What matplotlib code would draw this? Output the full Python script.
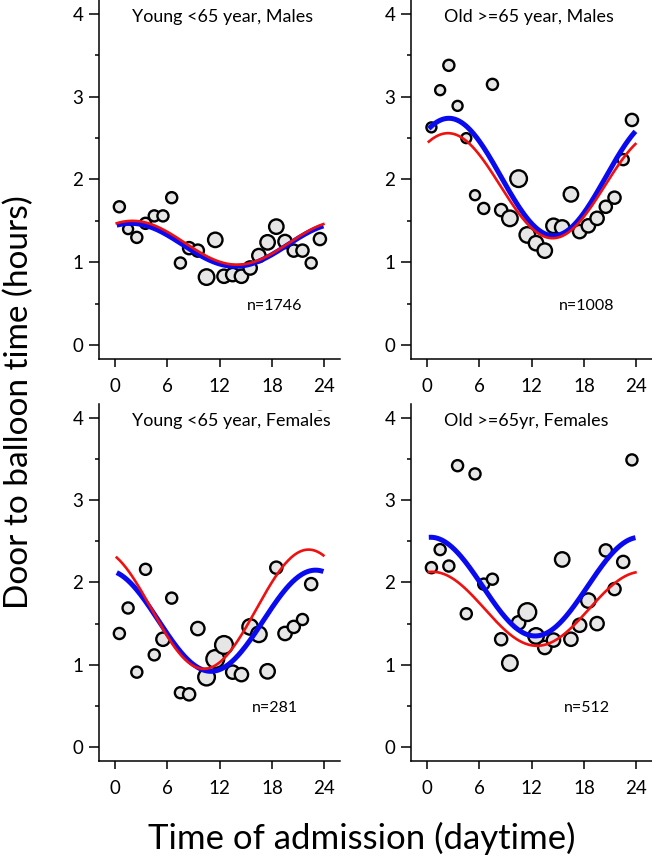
#!/usr/bin/env python3
"""Door-to-balloon time by hour of admission, 4 age/sex panels with cosinor fits."""
import numpy as np
import matplotlib
matplotlib.use("Agg")
import matplotlib.pyplot as plt

plt.rcParams["font.family"] = ["Lato", "DejaVu Sans"]

# hour of admission (bin centres)
hours = [0.5, 1.5, 2.5, 3.5, 4.5, 5.5, 6.5, 7.5, 8.5, 9.5, 10.5, 11.5,
         12.5, 13.5, 14.5, 15.5, 16.5, 17.5, 18.5, 19.5, 20.5, 21.5, 22.5, 23.5]

# --- Young <65, males ---
ym_dtb = [1.67, 1.40, 1.30, 1.47, 1.56, 1.56, 1.78, 0.99, 1.17, 1.14, 0.82, 1.27,
          0.83, 0.85, 0.83, 0.93, 1.08, 1.24, 1.43, 1.25, 1.14, 1.14, 0.99, 1.28]
ym_diam = [10, 9, 10, 10, 10, 10, 10, 10, 11, 11, 14, 13,
           12, 12, 12, 12, 12, 13, 13, 12, 11, 11, 10, 11]
# --- Old >=65, males ---
om_dtb = [2.63, 3.08, 3.38, 2.89, 2.50, 1.81, 1.65, 3.15, 1.63, 1.53, 2.01, 1.33,
          1.23, 1.14, 1.44, 1.42, 1.82, 1.37, 1.44, 1.53, 1.67, 1.78, 2.24, 2.72]
om_diam = [9, 9, 10, 9, 9, 9, 10, 10, 11, 14, 15, 14,
           13, 13, 13, 13, 13, 12, 12, 12, 11, 11, 10, 11]
# --- Young <65, females ---
yf_dtb = [1.38, 1.69, 0.91, 2.16, 1.12, 1.31, 1.81, 0.66, 0.64, 1.44, 0.85, 1.07,
          1.24, 0.91, 0.88, 1.46, 1.37, 0.92, 2.18, 1.38, 1.46, 1.55, 1.98, 4.01]
yf_diam = [10, 10, 10, 10, 10, 12, 10, 10, 11, 12, 15, 16,
           16, 12, 12, 14, 14, 13, 11, 12, 11, 10, 11, 10]
# --- Old >=65, females ---
of_dtb = [2.18, 2.40, 2.20, 3.42, 1.62, 3.32, 1.98, 2.04, 1.31, 1.02, 1.51, 1.64,
          1.35, 1.21, 1.30, 2.28, 1.31, 1.48, 1.78, 1.50, 2.39, 1.92, 2.25, 3.49]
of_diam = [10, 10, 10, 10, 10, 10, 10, 10, 11, 14, 12, 16,
           14, 12, 12, 13, 12, 12, 13, 12, 11, 11, 11, 10]

# cosinor fits: (mesor, amplitude, acrophase in h)
ym_blue, ym_red = (1.21, 0.26, 1.8), (1.235, 0.265, 2.0)
om_blue, om_red = (2.03, 0.71, 2.5), (1.925, 0.635, 2.4)
yf_blue, yf_red = (1.535, 0.615, 23.0), (1.675, 0.725, 22.2)
of_blue, of_red = (1.95, 0.60, 0.4), (1.68, 0.45, 0.6)

titles = ["Young <65 year, Males", "Old >=65 year, Males",
          "Young <65 year, Females", "Old >=65yr, Females"]
n_labels = ["n=1746", "n=1008", "n=281", "n=512"]

panels = [
    (ym_dtb, ym_diam, ym_blue, ym_red),
    (om_dtb, om_diam, om_blue, om_red),
    (yf_dtb, yf_diam, yf_blue, yf_red),
    (of_dtb, of_diam, of_blue, of_red),
]

# axes rectangles in figure fraction (left, bottom, width, height)
rects = [
    (0.1518, 0.5821, 0.3696, 0.4179),
    (0.6304, 0.5821, 0.3696, 0.4179),
    (0.1518, 0.1141, 0.3696, 0.4156),
    (0.6304, 0.1141, 0.3696, 0.4156),
]

fig = plt.figure(figsize=(6.52, 8.59), dpi=100)
t = np.linspace(0.2, 23.9, 200)


def cosinor(p, tt):
    mesor, amp, peak = p
    return mesor + amp * np.cos(2 * np.pi * (tt - peak) / 24.0)


for k, (rect, (dtb, diam, blue, red)) in enumerate(zip(rects, panels)):
    ax = fig.add_axes(rect)
    s = (np.array(diam) * 0.8) ** 2
    ax.scatter(hours, dtb, s=s, facecolor="#e6e6e6", edgecolor="black",
               linewidth=1.7, zorder=2)
    ax.plot(t, cosinor(blue, t), color="#0a0af0", lw=3.6, zorder=3,
            solid_capstyle="butt")
    ax.plot(t, cosinor(red, t), color="#f01010", lw=1.9, zorder=4)

    ax.set_xlim(-1.84, 25.8)
    ax.set_ylim(-0.17, 4.17)
    ax.set_xticks([0, 6, 12, 18, 24])
    ax.set_yticks([0, 1, 2, 3, 4])
    ax.set_yticks([0.5, 1.5, 2.5, 3.5], minor=True)
    for sp in ("top", "right"):
        ax.spines[sp].set_visible(False)
    for sp in ("left", "bottom"):
        ax.spines[sp].set_linewidth(1.1)
    ax.tick_params(axis="y", which="major", length=7.2, width=1.1, pad=4,
                   labelsize=13.5)
    ax.tick_params(axis="y", which="minor", length=3, width=1.1)
    ax.tick_params(axis="x", which="major", length=5.5, width=1.1, pad=8,
                   labelsize=13.5)
    ax.patch.set_visible(False)

    ax.text(1.9, 3.96, titles[k], ha="left", va="center", fontsize=12.9,
            zorder=5, bbox=dict(facecolor="white", edgecolor="none", pad=1.5))
    ax.text(18.3, 0.47, n_labels[k], ha="center", va="center", fontsize=11.5,
            zorder=5)

fig.text(0.029, 0.532, "Door to balloon time (hours)", rotation=90,
         ha="center", va="center", fontsize=24)
fig.text(0.555, 0.024, "Time of admission (daytime)", ha="center",
         va="center", fontsize=25)

fig.savefig("out.png", dpi=100)
